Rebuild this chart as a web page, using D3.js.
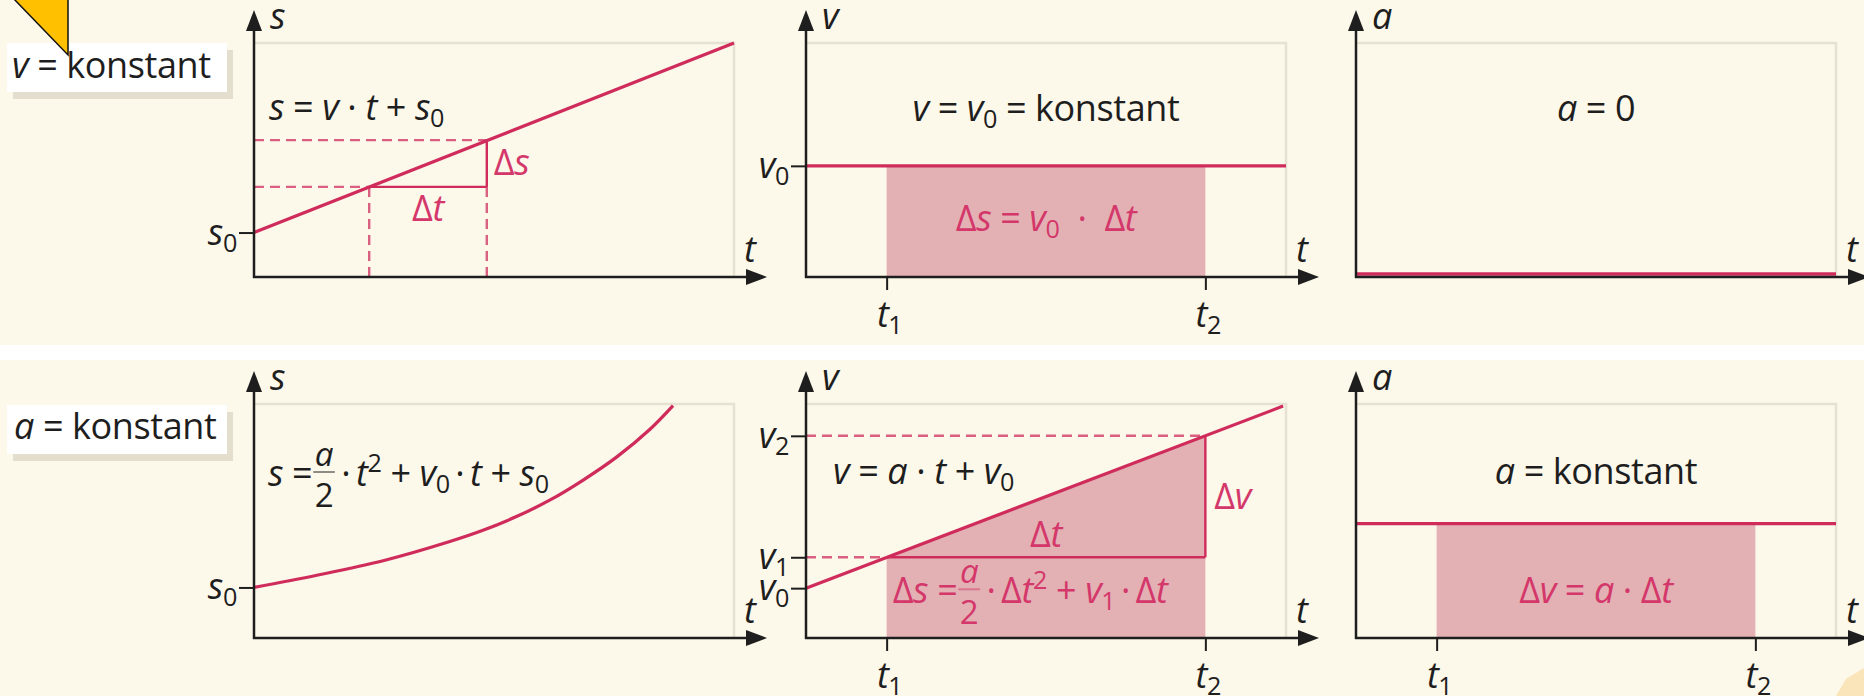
<!DOCTYPE html>
<html>
<head>
<meta charset="utf-8">
<script src="https://cdn.jsdelivr.net/npm/d3@7"></script>
<style>
  body { margin: 0; background: #fcf8ea; }
  svg { display: block; }
</style>
</head>
<body>
<div id="chart"></div>
<script>
// Values, in axis units (0..10 on both axes of every panel)
var sLineT = [0, 10];            // top left: s = v*t + s0
var sLineS = [1.9, 10];
var deltaT = [2.4, 4.85];        // time points of the slope triangle
var deltaS = [3.85, 5.85];
var v0Const = 4.75;              // top middle: v = v0
var aZero = 0;                   // top right: a = 0
var tMarks = [1.68, 8.32];       // t1, t2
var curveT = [0, 1.31, 2.69, 4.08, 4.77, 5.48, 6.17, 6.85, 7.56, 8.25, 8.73];   // bottom left
var curveS = [2.16, 2.68, 3.30, 4.12, 4.60, 5.20, 5.90, 6.74, 7.74, 8.92, 9.93];
var vLineT = [0, 9.94];          // bottom middle: v = a*t + v0
var vLineV = [2.13, 9.91];
var vMarks = [3.45, 8.64];       // v1, v2
var aConst = 4.89;               // bottom right

// texts, as [string, style] runs: i = italic, sub / sup, frac = [numerator, denominator]
var yNames = ["s", "v", "a"];
var rowTitles = [[["v", "i"], [" = konstant"]], [["a", "i"], [" = konstant"]]];
var tLabels = [[["t", "i"], ["1", "sub"]], [["t", "i"], ["2", "sub"]]];

var w = 1864, h = 696;
var FONT = "'Open Sans', 'Noto Sans', sans-serif";
var INK = "#1e1e1e", RED = "#cf2c5c", RED_TXT = "#d4376a", SHADE = "#e3b1b4";
var FS = 36;
var THIN = "\u2009";

var colX = [254, 806, 1356];     // y axis position of each column
var rowY = [277, 638];           // x axis position of each row
var PW = 480, PH = 234;

var svg = d3.select("#chart").append("svg")
    .attr("width", w)
    .attr("height", h);

svg.append("rect").attr("width", w).attr("height", h).attr("fill", "#fcf8ea");
svg.append("rect").attr("y", 345).attr("width", w).attr("height", 15).attr("fill", "#ffffff");

// little formula typesetter
function mathText(g, x, y, parts, opt) {
  opt = opt || {};
  var size = opt.size || FS;
  var grp = g.append("g").attr("fill", opt.color || INK)
      .style("font-family", FONT).style("font-weight", 500).style("letter-spacing", "-0.4px");
  var cx = 0;
  parts.forEach(function(p) {
    var txt = p[0], kind = p[1];
    if (kind === "frac") {
      var num = grp.append("text").attr("y", -20).attr("font-size", size * 0.92)
          .style("font-style", "italic").attr("text-anchor", "middle").text(txt[0]);
      var den = grp.append("text").attr("y", 21).attr("font-size", size * 0.92)
          .attr("text-anchor", "middle").text(txt[1]);
      var fw = Math.max(num.node().getComputedTextLength(), den.node().getComputedTextLength()) + 5;
      num.attr("x", cx + fw / 2);
      den.attr("x", cx + fw / 2);
      grp.append("line").attr("x1", cx + 1).attr("x2", cx + fw - 1)
          .attr("y1", -14).attr("y2", -14)
          .attr("stroke", opt.color || INK).attr("stroke-opacity", 0.5).attr("stroke-width", 2);
      cx += fw;
      return;
    }
    var fs = size, dy = 0;
    if (kind === "sub") { fs = size * 0.7; dy = 7; }
    if (kind === "sup") { fs = size * 0.7; dy = -14; }
    var t = grp.append("text").attr("x", cx).attr("y", dy).attr("font-size", fs)
        .text(txt.replace(/ /g, "\u00a0"));
    if (kind === "i") t.style("font-style", "italic");
    cx += t.node().getComputedTextLength();
  });
  var dx = 0;
  if (opt.anchor === "middle") dx = -cx / 2;
  if (opt.anchor === "end") dx = -cx;
  grp.attr("transform", "translate(" + (x + dx) + "," + y + ")");
  return grp;
}

// one panel: frame, axes with arrows, axis names; returns scales
function panel(col, row) {
  var ax = colX[col], ay = rowY[row];
  var x = d3.scaleLinear().domain([0, 10]).range([ax, ax + PW]);
  var y = d3.scaleLinear().domain([0, 10]).range([ay, ay - PH]);
  var g = svg.append("g");
  g.append("path")
      .attr("d", "M" + x(0) + "," + y(10) + "H" + x(10) + "V" + y(0))
      .attr("fill", "none").attr("stroke", "#e6e2d2").attr("stroke-width", 2.5);
  var top = g.append("g");          // marks
  var axes = g.append("g");
  axes.append("line").attr("x1", x(0) - 1).attr("x2", x(10) + 18).attr("y1", y(0)).attr("y2", y(0))
      .attr("stroke", INK).attr("stroke-width", 2.5);
  axes.append("line").attr("x1", x(0)).attr("x2", x(0)).attr("y1", y(0) + 1).attr("y2", y(10) - 18)
      .attr("stroke", INK).attr("stroke-width", 2.5);
  var tipX = x(10) + 33, tipY = y(10) - 33;
  axes.append("path").attr("d", "M" + tipX + "," + y(0) + "l-21,-8v16z").attr("fill", INK);
  axes.append("path").attr("d", "M" + x(0) + "," + tipY + "l-8,21h16z").attr("fill", INK);
  mathText(axes, x(0) + 16, y(10) - 14, [[yNames[col], "i"]]);
  mathText(axes, x(10) + 10, y(0) - 15, [["t", "i"]]);
  return { x: x, y: y, marks: top, axes: axes };
}

function yTicks(p, vals, labels) {
  p.axes.append("g").attr("transform", "translate(" + p.x(0) + ",0)")
      .call(d3.axisLeft(p.y).tickValues(vals).tickSize(15).tickFormat(""))
      .call(function(a) { a.select(".domain").remove(); })
      .selectAll("line").attr("stroke", INK).attr("stroke-width", 2);
  vals.forEach(function(v, i) {
    mathText(p.axes, p.x(0) - 17, p.y(v) + 12, labels[i], { anchor: "end" });
  });
}

function tTicks(p) {
  p.axes.append("g").attr("transform", "translate(0," + p.y(0) + ")")
      .call(d3.axisBottom(p.x).tickValues(tMarks).tickSize(13).tickFormat(""))
      .call(function(a) { a.select(".domain").remove(); })
      .selectAll("line").attr("stroke", INK).attr("stroke-width", 2);
  tMarks.forEach(function(t, i) {
    mathText(p.axes, p.x(t) + 3, p.y(0) + 50, tLabels[i], { anchor: "middle" });
  });
}

function seg(g, x1, y1, x2, y2, dash, width) {
  g.append("line").attr("x1", x1).attr("y1", y1).attr("x2", x2).attr("y2", y2)
      .attr("stroke", RED).attr("stroke-width", width || 2.4)
      .attr("stroke-dasharray", dash || null)
      .attr("stroke-opacity", dash ? 0.75 : 1);
}

var line = function(p) {
  return d3.line().x(function(d) { return p.x(d[0]); }).y(function(d) { return p.y(d[1]); });
};
var band = function(p) {
  return d3.area().x(function(d) { return p.x(d[0]); }).y0(p.y(0)).y1(function(d) { return p.y(d[1]); });
};

// ---- row titles with shadow box
[[43, 78, 12], [405, 439, 14]].forEach(function(b, i) {
  svg.append("rect").attr("x", 13).attr("y", b[0] + 7).attr("width", 220).attr("height", 49).attr("fill", "#e4dece");
  svg.append("rect").attr("x", 7).attr("y", b[0]).attr("width", 220).attr("height", 49).attr("fill", "#ffffff");
  mathText(svg, b[2], b[1], rowTitles[i]);
});

// ---- top left: s(t) for constant v
var p1 = panel(0, 0);
p1.marks.append("path").datum(d3.zip(sLineT, sLineS)).attr("d", line(p1))
    .attr("fill", "none").attr("stroke", RED).attr("stroke-width", 3.2);
deltaT.forEach(function(t, i) {
  seg(p1.marks, p1.x(0), p1.y(deltaS[i]), p1.x(t), p1.y(deltaS[i]), "10,6");
  seg(p1.marks, p1.x(t), p1.y(deltaS[0]), p1.x(t), p1.y(0), "10,6");
});
seg(p1.marks, p1.x(deltaT[0]), p1.y(deltaS[0]), p1.x(deltaT[1]), p1.y(deltaS[0]));
seg(p1.marks, p1.x(deltaT[1]), p1.y(deltaS[0]), p1.x(deltaT[1]), p1.y(deltaS[1]));
yTicks(p1, [sLineS[0]], [[["s", "i"], ["0", "sub"]]]);
mathText(svg, p1.x(0) + 15, p1.y(10) + 77,
    [["s", "i"], [" = "], ["v", "i"], [" · "], ["t", "i"], [" + "], ["s", "i"], ["0", "sub"]]);
mathText(svg, p1.x(deltaT[1]) + 7, (p1.y(deltaS[0]) + p1.y(deltaS[1])) / 2 + 11,
    [["Δ"], ["s", "i"]], { color: RED_TXT });
mathText(svg, (p1.x(deltaT[0]) + p1.x(deltaT[1])) / 2, p1.y(deltaS[0]) + 34,
    [["Δ"], ["t", "i"]], { color: RED_TXT, anchor: "middle" });

// ---- top middle: v(t) = v0
var p2 = panel(1, 0);
p2.marks.append("path").datum(tMarks.map(function(t) { return [t, v0Const]; }))
    .attr("d", band(p2)).attr("fill", SHADE);
p2.marks.append("path").datum([[0, v0Const], [10, v0Const]]).attr("d", line(p2))
    .attr("fill", "none").attr("stroke", RED).attr("stroke-width", 3.2);
yTicks(p2, [v0Const], [[["v", "i"], ["0", "sub"]]]);
tTicks(p2);
mathText(svg, p2.x(5), p2.y(10) + 78,
    [["v", "i"], [" = "], ["v", "i"], ["0", "sub"], [" = konstant"]], { anchor: "middle" });
mathText(svg, (p2.x(tMarks[0]) + p2.x(tMarks[1])) / 2, (p2.y(v0Const) + p2.y(0)) / 2 + 10,
    [["Δ"], ["s", "i"], [" = "], ["v", "i"], ["0", "sub"], ["  ·  Δ"], ["t", "i"]], { color: RED_TXT, anchor: "middle" });

// ---- top right: a = 0
var p3 = panel(2, 0);
p3.marks.append("path").datum([[0, aZero], [10, aZero]]).attr("d", line(p3))
    .attr("transform", "translate(0,-3)")
    .attr("fill", "none").attr("stroke", RED).attr("stroke-width", 3.5);
mathText(svg, p3.x(5), p3.y(10) + 78, [["a", "i"], [" = 0"]], { anchor: "middle" });

// ---- bottom left: s(t) for constant a
var p4 = panel(0, 1);
p4.marks.append("path").datum(d3.zip(curveT, curveS)).attr("d", line(p4).curve(d3.curveCatmullRom))
    .attr("fill", "none").attr("stroke", RED).attr("stroke-width", 3.2);
yTicks(p4, [curveS[0]], [[["s", "i"], ["0", "sub"]]]);
mathText(svg, p4.x(0) + 14, p4.y(10) + 82,
    [["s", "i"], [" ="], [["a", "2"], "frac"], [THIN + "·" + THIN], ["t", "i"], ["2", "sup"], [" + "], ["v", "i"], ["0", "sub"],
     [THIN + "·" + THIN], ["t", "i"], [" + "], ["s", "i"], ["0", "sub"]]);

// ---- bottom middle: v(t) = a*t + v0
var p5 = panel(1, 1);
var tri = d3.zip(tMarks, vMarks);
p5.marks.append("path").datum(tri).attr("d", band(p5)).attr("fill", SHADE);
seg(p5.marks, p5.x(0), p5.y(vMarks[1]), p5.x(tMarks[1]), p5.y(vMarks[1]), "10,6");
seg(p5.marks, p5.x(0), p5.y(vMarks[0]), p5.x(tMarks[0]), p5.y(vMarks[0]), "10,6");
seg(p5.marks, p5.x(tMarks[0]), p5.y(vMarks[0]), p5.x(tMarks[1]), p5.y(vMarks[0]));
seg(p5.marks, p5.x(tMarks[1]), p5.y(vMarks[0]), p5.x(tMarks[1]), p5.y(vMarks[1]));
p5.marks.append("path").datum(d3.zip(vLineT, vLineV)).attr("d", line(p5))
    .attr("fill", "none").attr("stroke", RED).attr("stroke-width", 3.2);
yTicks(p5, [vMarks[1], vMarks[0], vLineV[0]],
    [[["v", "i"], ["2", "sub"]], [["v", "i"], ["1", "sub"]], [["v", "i"], ["0", "sub"]]]);
tTicks(p5);
mathText(svg, p5.x(0) + 27, p5.y(10) + 80,
    [["v", "i"], [" = "], ["a", "i"], [" · "], ["t", "i"], [" + "], ["v", "i"], ["0", "sub"]]);
mathText(svg, p5.x(tMarks[1]) + 9, (p5.y(vMarks[0]) + p5.y(vMarks[1])) / 2 + 12,
    [["Δ"], ["v", "i"]], { color: RED_TXT });
mathText(svg, (p5.x(tMarks[0]) + p5.x(tMarks[1])) / 2, p5.y(vMarks[0]) - 10,
    [["Δ"], ["t", "i"]], { color: RED_TXT, anchor: "middle" });
mathText(svg, p5.x(tMarks[0]) + 6, p5.y(vMarks[0]) + 46,
    [["Δ"], ["s", "i"], [" ="], [["a", "2"], "frac"], [THIN + "·" + THIN + "Δ"], ["t", "i"], ["2", "sup"], [" + "], ["v", "i"], ["1", "sub"],
     [THIN + "·" + THIN + "Δ"], ["t", "i"]], { color: RED_TXT });

// ---- bottom right: a = konstant
var p6 = panel(2, 1);
p6.marks.append("path").datum(tMarks.map(function(t) { return [t, aConst]; }))
    .attr("d", band(p6)).attr("fill", SHADE);
p6.marks.append("path").datum([[0, aConst], [10, aConst]]).attr("d", line(p6))
    .attr("fill", "none").attr("stroke", RED).attr("stroke-width", 3.2);
tTicks(p6);
mathText(svg, p6.x(5), p6.y(10) + 80, [["a", "i"], [" = konstant"]], { anchor: "middle" });
mathText(svg, (p6.x(tMarks[0]) + p6.x(tMarks[1])) / 2, (p6.y(aConst) + p6.y(0)) / 2 + 22,
    [["Δ"], ["v", "i"], [" = "], ["a", "i"], [" · Δ"], ["t", "i"]], { color: RED_TXT, anchor: "middle" });

// page corner marks
svg.append("path").attr("d", "M13,-2L68,55V-2Z").attr("fill", "#ffc000")
    .attr("stroke", "#111").attr("stroke-width", 1.5);
svg.append("path").attr("d", "M1836,696L1846,679L1864,668V696Z").attr("fill", "#f9dfae").attr("opacity", 0.8);
</script>
</body>
</html>
